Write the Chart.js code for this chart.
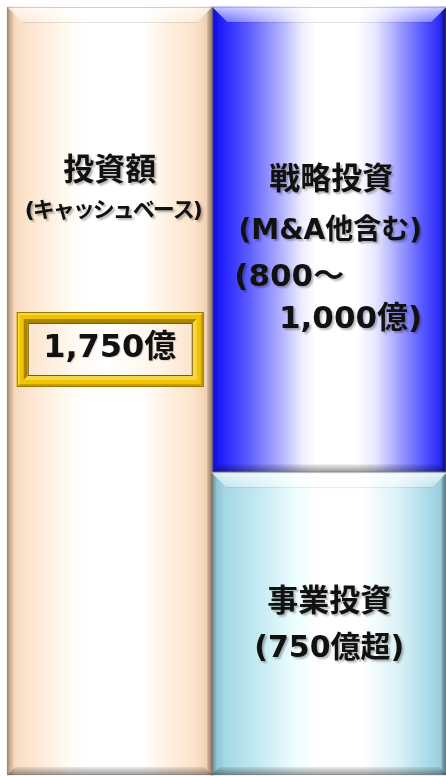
<!DOCTYPE html>
<html>
<head>
<meta charset="utf-8">
<script src="https://cdn.jsdelivr.net/npm/chart.js@4/dist/chart.umd.min.js"></script>
<style>
html,body{margin:0;padding:0;background:#fff;}
#wrap{width:446px;height:776px;}
</style>
</head>
<body>
<div id="wrap"><canvas id="c" width="446" height="776"></canvas></div>
<script>
// ---- data ----
const categories = ['投資額', '戦略投資・事業投資'];
const totalInvestment = [1750, null];      // 投資額（キャッシュベース）
const businessInvestment = [null, 690];    // 事業投資 (750億超)
const strategicInvestment = [null, 1060];  // 戦略投資 (800～1,000億)
const yMax = 1750;

const FONT = "'DejaVu Sans','Noto Sans CJK JP',sans-serif";

const peachStops = [[0,'#b8987a'],[0.015,'#dcbc9e'],[0.04,'#f8dcc2'],[0.12,'#fde6d0'],[0.3,'#fffbf2'],[0.38,'#ffffff'],[0.66,'#ffffff'],[0.78,'#fff1e2'],[0.92,'#fde2c8'],[0.975,'#efcfb2'],[0.99,'#c8a888'],[1,'#a88a6c']];
const blueStops = [[0,'#1010e8'],[0.05,'#2424ff'],[0.15,'#5a5aff'],[0.28,'#a8a8ff'],[0.38,'#ececff'],[0.44,'#ffffff'],[0.62,'#ffffff'],[0.7,'#e6e6ff'],[0.82,'#9090ff'],[0.92,'#4a4aff'],[0.975,'#2a2af0'],[1,'#0c0c80']];
const lightStops = [[0,'#5e8e9c'],[0.02,'#8ec4d4'],[0.06,'#a6d8e6'],[0.2,'#c4eaf2'],[0.36,'#eefeff'],[0.45,'#ffffff'],[0.64,'#ffffff'],[0.78,'#dff3f8'],[0.92,'#aadbe8'],[0.97,'#9ccfdc'],[1,'#557f8c']];

function hGrad(stops) {
  return function(ctx) {
    const chart = ctx.chart;
    if (!chart.chartArea || !chart.scales.x) return stops[6][1];
    const cx = chart.scales.x.getPixelForValue(ctx.dataIndex);
    const w = ctx.dataset.barThickness;
    const g = chart.ctx.createLinearGradient(cx - w/2, 0, cx + w/2, 0);
    stops.forEach(s => g.addColorStop(s[0], s[1]));
    return g;
  };
}

const bevelPlugin = {
  id: 'bevel',
  afterDatasetsDraw(chart) {
    const c = chart.ctx;
    chart.data.datasets.forEach((ds, di) => {
      const meta = chart.getDatasetMeta(di);
      meta.data.forEach((el, i) => {
        if (ds.data[i] == null) return;
        const p = el.getProps(['x','y','base','width'], true);
        const L = p.x - p.width/2, R = p.x + p.width/2;
        const T = Math.min(p.y, p.base), B = Math.max(p.y, p.base);
        const bt = 15, bb = 8, bs = 5;
        c.save();
        let g = c.createLinearGradient(0, T, 0, T + bt);
        g.addColorStop(0, 'rgba(255,255,255,0.75)');
        g.addColorStop(1, 'rgba(255,255,255,0.35)');
        c.fillStyle = g;
        c.beginPath(); c.moveTo(L, T); c.lineTo(R, T); c.lineTo(R - bt, T + bt); c.lineTo(L + bt, T + bt); c.closePath(); c.fill();
        c.strokeStyle = 'rgba(0,0,0,0.10)'; c.lineWidth = 1;
        c.beginPath(); c.moveTo(L + bt, T + bt + 0.5); c.lineTo(R - bt, T + bt + 0.5); c.stroke();
        g = c.createLinearGradient(0, B - bb, 0, B);
        g.addColorStop(0, 'rgba(0,0,0,0.08)');
        g.addColorStop(1, 'rgba(0,0,0,0.40)');
        c.fillStyle = g;
        c.beginPath(); c.moveTo(L, B); c.lineTo(R, B); c.lineTo(R - bb, B - bb); c.lineTo(L + bb, B - bb); c.closePath(); c.fill();
        c.fillStyle = 'rgba(0,0,0,0.06)';
        c.beginPath(); c.moveTo(L, T); c.lineTo(L + bs, T + bs); c.lineTo(L + bs, B - bs); c.lineTo(L, B); c.closePath(); c.fill();
        c.fillStyle = 'rgba(0,0,0,0.12)';
        c.beginPath(); c.moveTo(R, T); c.lineTo(R - bs, T + bs); c.lineTo(R - bs, B - bs); c.lineTo(R, B); c.closePath(); c.fill();
        c.strokeStyle = 'rgba(120,120,120,0.35)'; c.lineWidth = 1;
        c.strokeRect(L + 0.5, T + 0.5, p.width - 1, B - T - 1);
        c.restore();
      });
    });
  }
};

function txt(c, s, x, y, size, align, spacing) {
  c.save();
  c.font = 'bold ' + size + 'px ' + FONT;
  c.textAlign = align || 'center';
  c.textBaseline = 'middle';
  if (spacing) c.letterSpacing = spacing;
  c.shadowColor = 'rgba(0,0,0,0.28)';
  c.shadowOffsetX = 2; c.shadowOffsetY = 2; c.shadowBlur = 2;
  c.fillStyle = '#111';
  c.fillText(s, x, y);
  c.restore();
}

function quad(c, pts, color) {
  c.fillStyle = color;
  c.beginPath(); c.moveTo(pts[0], pts[1]);
  for (let k = 2; k < pts.length; k += 2) c.lineTo(pts[k], pts[k+1]);
  c.closePath(); c.fill();
}

function frame(c, x0, y0, x1, y1, w, tl, br) {
  quad(c, [x0,y0, x1,y0, x1-w,y0+w, x0+w,y0+w], tl);
  quad(c, [x0,y0, x0+w,y0+w, x0+w,y1-w, x0,y1], tl);
  quad(c, [x0,y1, x1,y1, x1-w,y1-w, x0+w,y1-w], br);
  quad(c, [x1,y0, x1-w,y0+w, x1-w,y1-w, x1,y1], br);
}

const labelPlugin = {
  id: 'labels',
  afterDraw(chart) {
    const c = chart.ctx;
    const elL = chart.getDatasetMeta(0).data[0];
    const elB = chart.getDatasetMeta(1).data[1];
    const elS = chart.getDatasetMeta(2).data[1];
    const T = chart.chartArea.top;
    const lx = elL.x;
    txt(c, '投資額', lx, T + 165, 31);
    txt(c, '(キャッシュベース)', lx + 3, T + 204, 22, 'center', '-2px');
    // gold box
    const bx0 = lx - 93, bx1 = lx + 94, by0 = T + 305, by1 = T + 380;
    c.save();
    c.fillStyle = '#f0c400';
    c.fillRect(bx0, by0, bx1 - bx0, by1 - by0);
    frame(c, bx0, by0, bx1, by1, 3, '#f8d838', '#c89e00');
    frame(c, bx0 + 7, by0 + 7, bx1 - 7, by1 - 7, 4, '#a88400', '#f6d64a');
    c.strokeStyle = '#9a7800'; c.lineWidth = 1;
    c.strokeRect(bx0 + 0.5, by0 + 0.5, bx1 - bx0 - 1, by1 - by0 - 1);
    const ib = 11;
    const g = c.createLinearGradient(bx0 + ib, 0, bx1 - ib, 0);
    g.addColorStop(0, '#fde4cc'); g.addColorStop(0.3, '#fffaf2'); g.addColorStop(0.5, '#ffffff'); g.addColorStop(0.8, '#fff4e8'); g.addColorStop(1, '#fde4cc');
    c.fillStyle = g;
    c.fillRect(bx0 + ib, by0 + ib, bx1 - bx0 - 2*ib, by1 - by0 - 2*ib);
    c.strokeStyle = '#7a5e00';
    c.strokeRect(bx0 + ib + 0.5, by0 + ib + 0.5, bx1 - bx0 - 2*ib - 1, by1 - by0 - 2*ib - 1);
    c.restore();
    c.save();
    c.font = 'bold 32px ' + FONT; c.textAlign = 'center'; c.textBaseline = 'middle';
    c.fillStyle = '#111'; c.shadowColor = 'rgba(0,0,0,0.15)'; c.shadowOffsetX = 1; c.shadowOffsetY = 1; c.shadowBlur = 1;
    c.fillText('1,750億', lx, T + 342);
    c.restore();
    const rx = elS.x;
    txt(c, '戦略投資', rx + 2, T + 174, 31);
    txt(c, '(M&A他含む)', rx + 1, T + 225, 28);
    txt(c, '(800～', rx - 95, T + 271, 31, 'left');
    txt(c, '1,000億)', rx + 93, T + 313, 31, 'right');
    const bxc = elB.x;
    txt(c, '事業投資', bxc, T + 596, 31);
    txt(c, '(750億超)', bxc, T + 642, 30);
  }
};

new Chart(document.getElementById('c'), {
  type: 'bar',
  data: {
    labels: categories,
    datasets: [
      { label: '投資額', data: totalInvestment, stack: 's', barThickness: 205, backgroundColor: hGrad(peachStops), borderWidth: 0, clip: false },
      { label: '事業投資', data: businessInvestment, stack: 's', barThickness: 236, backgroundColor: hGrad(lightStops), borderWidth: 0, clip: false },
      { label: '戦略投資', data: strategicInvestment, stack: 's', barThickness: 234, backgroundColor: hGrad(blueStops), borderWidth: 0, clip: false }
    ]
  },
  options: {
    responsive: false,
    animation: false,
    devicePixelRatio: 1,
    layout: { padding: { left: 0, right: 7, top: 7, bottom: 1 } },
    plugins: { legend: { display: false }, tooltip: { enabled: false } },
    scales: {
      x: { display: false, stacked: true },
      y: { display: false, stacked: true, min: 0, max: yMax }
    }
  },
  plugins: [bevelPlugin, labelPlugin]
});
</script>
</body>
</html>
